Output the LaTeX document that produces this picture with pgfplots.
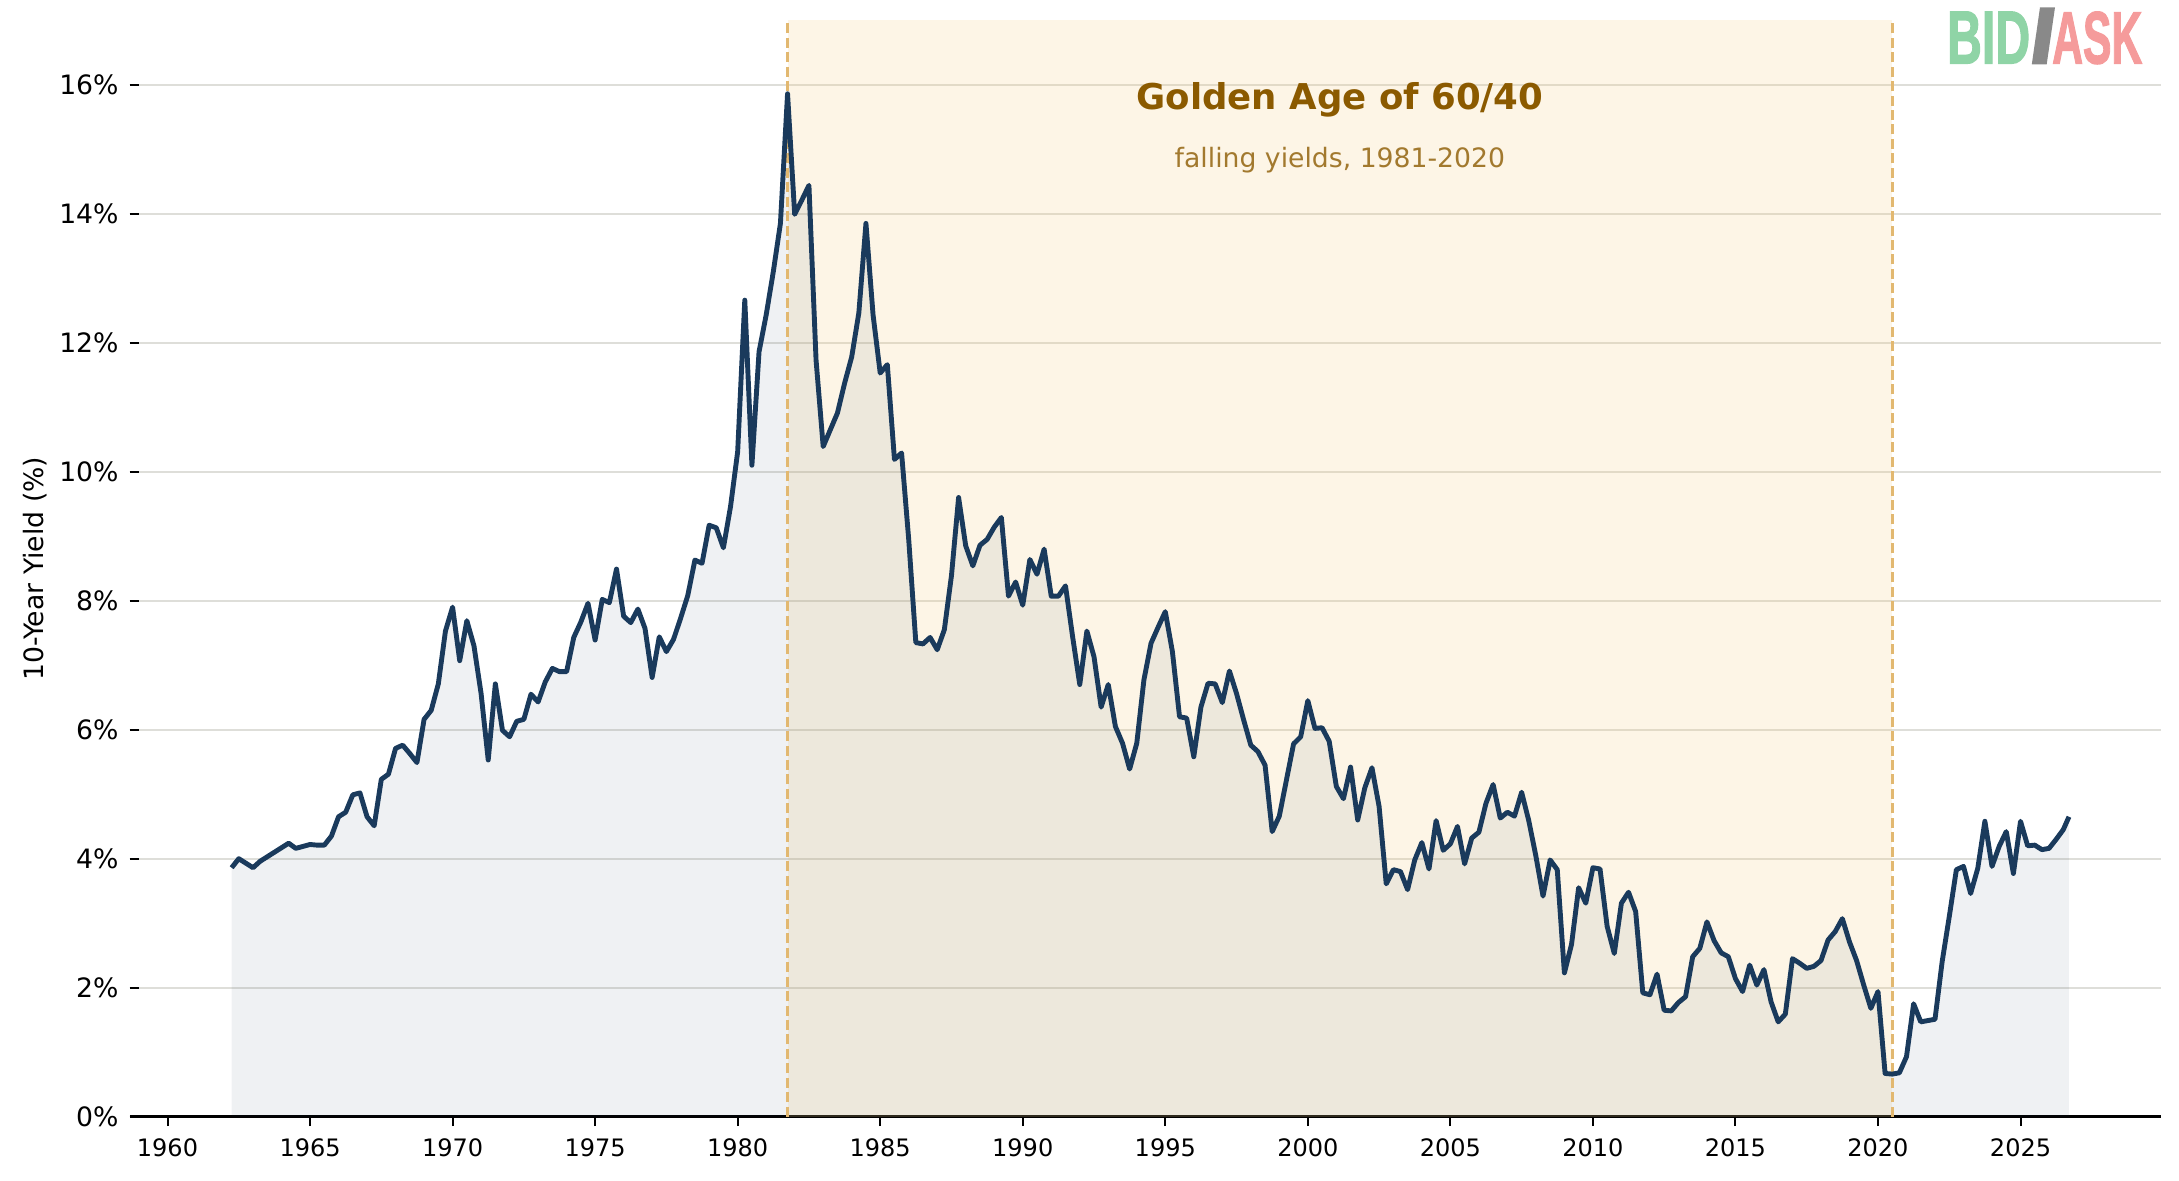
\documentclass[border=0pt]{standalone}
\usepackage{fontspec}
\setmainfont{DejaVu Sans}
\newfontfamily\logofont{Liberation Sans}[BoldFeatures={FakeBold=2}]
\usepackage{graphicx}
\usepackage{pgfplots}
\usepackage{pgfplotstable}
\pgfplotsset{compat=1.18}

\definecolor{navy}{RGB}{26,58,92}
\definecolor{goldenA}{RGB}{245,205,130}
\definecolor{dashc}{RGB}{226,184,112}
\definecolor{gridc}{RGB}{222,222,217}
\definecolor{titlec}{RGB}{139,90,0}
\definecolor{subc}{RGB}{162,121,46}
\definecolor{bidc}{RGB}{143,212,166}
\definecolor{askc}{RGB}{245,155,155}
\definecolor{slashc}{RGB}{137,137,137}

\pgfplotstableread{
x y
1962.25 3.86
1962.50 4.00
1962.75 3.93
1963.00 3.86
1963.25 3.96
1963.50 4.03
1963.75 4.10
1964.00 4.17
1964.25 4.24
1964.50 4.16
1964.75 4.19
1965.00 4.22
1965.25 4.21
1965.50 4.21
1965.75 4.35
1966.00 4.65
1966.25 4.72
1966.50 4.99
1966.75 5.02
1967.00 4.65
1967.25 4.51
1967.50 5.23
1967.75 5.31
1968.00 5.71
1968.25 5.76
1968.50 5.63
1968.75 5.49
1969.00 6.16
1969.25 6.30
1969.50 6.71
1969.75 7.53
1970.00 7.90
1970.25 7.07
1970.50 7.69
1970.75 7.30
1971.00 6.56
1971.25 5.53
1971.50 6.71
1971.75 5.99
1972.00 5.89
1972.25 6.13
1972.50 6.16
1972.75 6.55
1973.00 6.43
1973.25 6.74
1973.50 6.95
1973.75 6.90
1974.00 6.90
1974.25 7.43
1974.50 7.67
1974.75 7.96
1975.00 7.39
1975.25 8.02
1975.50 7.97
1975.75 8.49
1976.00 7.76
1976.25 7.66
1976.50 7.87
1976.75 7.57
1977.00 6.81
1977.25 7.44
1977.50 7.21
1977.75 7.40
1978.00 7.73
1978.25 8.08
1978.50 8.63
1978.75 8.58
1979.00 9.17
1979.25 9.13
1979.50 8.82
1979.75 9.46
1980.00 10.31
1980.25 12.66
1980.50 10.10
1980.75 11.86
1981.00 12.43
1981.25 13.10
1981.50 13.85
1981.75 15.86
1982.00 13.99
1982.25 14.21
1982.50 14.44
1982.75 11.73
1983.00 10.39
1983.25 10.65
1983.50 10.91
1983.75 11.37
1984.00 11.78
1984.25 12.46
1984.50 13.85
1984.75 12.43
1985.00 11.53
1985.25 11.66
1985.50 10.19
1985.75 10.29
1986.00 8.95
1986.25 7.35
1986.50 7.33
1986.75 7.43
1987.00 7.24
1987.25 7.55
1987.50 8.39
1987.75 9.60
1988.00 8.85
1988.25 8.54
1988.50 8.86
1988.75 8.95
1989.00 9.14
1989.25 9.29
1989.50 8.07
1989.75 8.29
1990.00 7.93
1990.25 8.64
1990.50 8.41
1990.75 8.80
1991.00 8.07
1991.25 8.07
1991.50 8.23
1991.75 7.44
1992.00 6.70
1992.25 7.53
1992.50 7.13
1992.75 6.35
1993.00 6.70
1993.25 6.05
1993.50 5.79
1993.75 5.39
1994.00 5.79
1994.25 6.77
1994.50 7.34
1994.75 7.59
1995.00 7.83
1995.25 7.21
1995.50 6.20
1995.75 6.18
1996.00 5.58
1996.25 6.35
1996.50 6.72
1996.75 6.71
1997.00 6.42
1997.25 6.91
1997.50 6.56
1997.75 6.15
1998.00 5.76
1998.25 5.66
1998.50 5.45
1998.75 4.42
1999.00 4.66
1999.25 5.22
1999.50 5.78
1999.75 5.89
2000.00 6.45
2000.25 6.02
2000.50 6.03
2000.75 5.82
2001.00 5.12
2001.25 4.93
2001.50 5.42
2001.75 4.60
2002.00 5.10
2002.25 5.41
2002.50 4.81
2002.75 3.61
2003.00 3.83
2003.25 3.80
2003.50 3.52
2003.75 3.98
2004.00 4.25
2004.25 3.84
2004.50 4.59
2004.75 4.13
2005.00 4.23
2005.25 4.50
2005.50 3.92
2005.75 4.32
2006.00 4.41
2006.25 4.86
2006.50 5.15
2006.75 4.63
2007.00 4.72
2007.25 4.66
2007.50 5.03
2007.75 4.59
2008.00 4.04
2008.25 3.42
2008.50 3.98
2008.75 3.83
2009.00 2.23
2009.25 2.67
2009.50 3.55
2009.75 3.31
2010.00 3.86
2010.25 3.84
2010.50 2.95
2010.75 2.53
2011.00 3.31
2011.25 3.48
2011.50 3.18
2011.75 1.92
2012.00 1.89
2012.25 2.21
2012.50 1.65
2012.75 1.64
2013.00 1.77
2013.25 1.86
2013.50 2.48
2013.75 2.61
2014.00 3.02
2014.25 2.73
2014.50 2.54
2014.75 2.48
2015.00 2.14
2015.25 1.94
2015.50 2.35
2015.75 2.04
2016.00 2.28
2016.25 1.78
2016.50 1.47
2016.75 1.59
2017.00 2.45
2017.25 2.38
2017.50 2.30
2017.75 2.33
2018.00 2.42
2018.25 2.74
2018.50 2.87
2018.75 3.07
2019.00 2.71
2019.25 2.42
2019.50 2.04
2019.75 1.68
2020.00 1.94
2020.25 0.67
2020.50 0.66
2020.75 0.68
2021.00 0.93
2021.25 1.75
2021.50 1.47
2021.75 1.49
2022.00 1.51
2022.25 2.40
2022.50 3.10
2022.75 3.83
2023.00 3.88
2023.25 3.46
2023.50 3.85
2023.75 4.58
2024.00 3.88
2024.25 4.19
2024.50 4.42
2024.75 3.77
2025.00 4.58
2025.25 4.20
2025.50 4.21
2025.75 4.14
2026.00 4.16
2026.25 4.30
2026.50 4.45
2026.70 4.65
}\yields

\begin{document}
\begin{tikzpicture}
\useasboundingbox (0,0) rectangle (980.55pt,531pt);
\begin{axis}[
  at={(62.55pt,28.5pt)}, anchor=south west,
  scale only axis, width=909.8pt, height=493.4pt,
  xmin=1959.0, xmax=2029.92, ymin=0, ymax=17,
  axis x line*=bottom, axis y line*=left,
  x axis line style={black, line width=1.2pt, -, shorten <=-4.05pt},
  y axis line style={draw=none},
  tick align=inside,
  major tick length=4.2pt,
  major tick style={black, line width=0.9pt},
  xtick style={yshift=-4.2pt},
  ytick style={xshift=-4.2pt},
  xtick={1960,1965,...,2025},
  ytick={0,2,...,16},
  minor tick num=0,
  /pgf/number format/assume math mode=true,
  /pgf/number format/1000 sep={},
  yticklabel={\pgfmathprintnumber{\tick}\%},
  x tick label style={font=\fontsize{10.8}{13}\selectfont, inner sep=0pt},
  y tick label style={font=\fontsize{12}{14}\selectfont, inner sep=0pt},
  xticklabel shift=9.5pt,
  yticklabel shift=9pt,
  ymajorgrids,
  major grid style={gridc, line width=0.9pt},
  ylabel={10-Year Yield (\%)},
  ylabel style={at={(axis description cs:-0.0514,0.5)}, anchor=center, font=\fontsize{12}{14}\selectfont},
  clip=false,
]
\addplot[draw=none, fill=goldenA, fill opacity=0.2] coordinates {(1981.75,17) (2020.5,17)} \closedcycle;
\addplot[draw=none, fill=navy, fill opacity=0.07] table[x=x,y=y]{\yields} \closedcycle;
\addplot[dashc, line width=1.3pt, dash pattern=on 4.5pt off 2pt] coordinates {(1981.75,0) (1981.75,17)};
\addplot[dashc, line width=1.3pt, dash pattern=on 4.5pt off 2pt] coordinates {(2020.5,0) (2020.5,17)};
\addplot[navy, line width=2.2pt, line join=round] table[x=x,y=y]{\yields};
\node[anchor=base, text=titlec, font=\fontsize{16}{19}\selectfont\bfseries] at (axis cs:2001.125,15.61) {Golden Age of 60/40};
\node[anchor=base, text=subc, font=\fontsize{12}{14}\selectfont] at (axis cs:2001.125,14.72) {falling yields, 1981-2020};
\end{axis}
\fill[slashc] (914.3pt,502pt) -- (921pt,502pt) -- (924.75pt,527.7pt) -- (918pt,527.7pt) -- cycle;
\node[anchor=base west, inner sep=0pt, text=bidc] at (876pt,502.5pt) {\resizebox{37.35pt}{23.2pt}{\logofont\bfseries BID}};
\node[anchor=base west, inner sep=0pt, text=askc] at (923.3pt,502.5pt) {\resizebox{40.5pt}{23.2pt}{\logofont\bfseries ASK}};
\end{tikzpicture}
\end{document}
